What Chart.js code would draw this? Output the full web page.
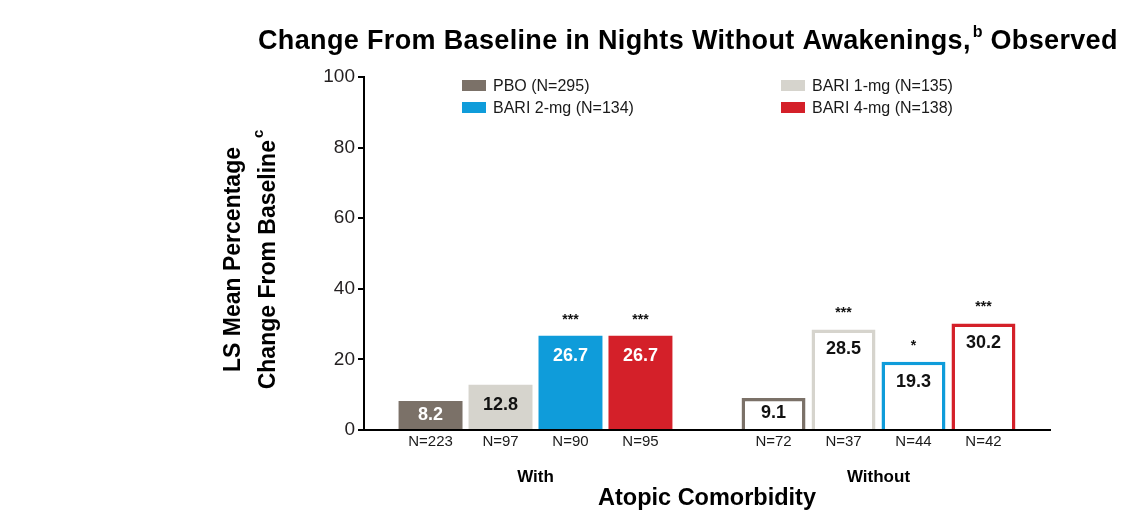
<!DOCTYPE html>
<html><head><meta charset="utf-8">
<script src="https://cdn.jsdelivr.net/npm/chart.js@4.4.0/dist/chart.umd.min.js"></script>
<style>html,body{margin:0;padding:0;background:#fff;overflow:hidden}#wrap{width:1121px;height:516px;position:relative}</style>
</head><body><div id="wrap"><canvas id="c" width="1121" height="516"></canvas></div>
<script>
// ---- data ----
const categories = ['With', 'Without'];
const seriesNames = ['PBO (N=295)', 'BARI 1-mg (N=135)', 'BARI 2-mg (N=134)', 'BARI 4-mg (N=138)'];
const pboValues = [8.2, 9.1];
const bari1Values = [12.8, 28.5];
const bari2Values = [26.7, 19.3];
const bari4Values = [26.7, 30.2];
const pboN = ['N=223', 'N=72'];
const bari1N = ['N=97', 'N=37'];
const bari2N = ['N=90', 'N=44'];
const bari4N = ['N=95', 'N=42'];
const pboSig = ['', ''];
const bari1Sig = ['', '***'];
const bari2Sig = ['***', '*'];
const bari4Sig = ['***', '***'];
const yTicks = [0, 20, 40, 60, 80, 100];
const chartTitle = 'Change From Baseline in Nights Without Awakenings,';
const chartTitleSup = 'b';
const chartTitleEnd = ' Observed';
const yTitle1 = 'LS Mean Percentage';
const yTitle2 = 'Change From Baseline';
const yTitle2Sup = 'c';
const xTitle = 'Atopic Comorbidity';

// ---- styles ----
const FONT = '"Liberation Sans", Arial, Helvetica, sans-serif';
const C_PBO = '#7b7168', C_B1 = '#d6d4cd', C_B2 = '#0f9cda', C_B4 = '#d42029';

function mk(label, data, color, nLabels, sig, withLabelColor) {
  return {
    label, data, nLabels, sig,
    labelColors: [withLabelColor, '#111'],
    backgroundColor: [color, '#ffffff'],
    borderColor: [color, color],
    borderWidth: [0, 3.5],
    borderSkipped: 'start',
    categoryPercentage: 0.816,
    barPercentage: 0.914
  };
}

const datasets = [
  mk(seriesNames[0], pboValues, C_PBO, pboN, pboSig, '#ffffff'),
  mk(seriesNames[1], bari1Values, C_B1, bari1N, bari1Sig, '#111111'),
  mk(seriesNames[2], bari2Values, C_B2, bari2N, bari2Sig, '#ffffff'),
  mk(seriesNames[3], bari4Values, C_B4, bari4N, bari4Sig, '#ffffff')
];

const labelPlugin = {
  id: 'labels',
  afterDatasetsDraw(chart) {
    const ctx = chart.ctx;
    ctx.save();
    ctx.textAlign = 'center';
    ctx.textBaseline = 'middle';
    chart.data.datasets.forEach((ds, di) => {
      const meta = chart.getDatasetMeta(di);
      meta.data.forEach((bar, i) => {
        const p = bar.getProps(['x', 'y', 'base'], true);
        const ly = Math.min(p.y + 20, (p.y + p.base) / 2);
        ctx.font = 'bold 18px ' + FONT;
        ctx.fillStyle = ds.labelColors[i];
        ctx.fillText(ds.data[i].toFixed(1), p.x, ly);
        if (ds.sig[i]) {
          ctx.font = 'bold 14px ' + FONT;
          ctx.fillStyle = '#111';
          ctx.fillText(ds.sig[i], p.x, p.y - 16);
        }
        ctx.font = '15px ' + FONT;
        ctx.fillStyle = '#1a1a1a';
        ctx.fillText(ds.nLabels[i], p.x, chart.chartArea.bottom + 12);
      });
    });
    ctx.restore();
  },
  afterDraw(chart) {
    const ctx = chart.ctx;
    ctx.save();
    // main title, fitted to span 258..1118
    ctx.fillStyle = '#000';
    ctx.textBaseline = 'alphabetic';
    ctx.textAlign = 'left';
    const big = 'bold 27px ' + FONT, sup = 'bold 16px ' + FONT;
    ctx.font = big;
    const wA = ctx.measureText(chartTitle).width, wC = ctx.measureText(chartTitleEnd).width;
    ctx.font = sup;
    const wB = ctx.measureText(chartTitleSup).width;
    const nChars = chartTitle.length + chartTitleEnd.length;
    const spacing = Math.max(0, Math.min(0.6, (860 - (wA + wB + wC + 2)) / nChars));
    ctx.letterSpacing = spacing.toFixed(2) + 'px';
    let x = 258;
    ctx.font = big;
    ctx.fillText(chartTitle, x, 49);
    x += ctx.measureText(chartTitle).width + 2;
    ctx.font = sup;
    ctx.letterSpacing = '0px';
    ctx.fillText(chartTitleSup, x, 37);
    x += wB;
    ctx.font = big;
    ctx.letterSpacing = spacing.toFixed(2) + 'px';
    ctx.fillText(chartTitleEnd, x, 49);
    ctx.letterSpacing = '0px';

    // y title (rotated)
    const cy = (chart.chartArea.top + chart.chartArea.bottom) / 2 + 6;
    ctx.save();
    ctx.translate(234, cy);
    ctx.rotate(-Math.PI / 2);
    ctx.textAlign = 'center';
    ctx.textBaseline = 'middle';
    ctx.font = 'bold 23px ' + FONT;
    ctx.fillText(yTitle1, 0, 0);
    ctx.restore();
    ctx.save();
    ctx.translate(269, cy);
    ctx.rotate(-Math.PI / 2);
    ctx.textBaseline = 'middle';
    ctx.font = 'bold 23px ' + FONT;
    const w1 = ctx.measureText(yTitle2).width;
    ctx.font = 'bold 15px ' + FONT;
    const w2 = ctx.measureText(yTitle2Sup).width;
    const start = -(w1 + w2 + 2) / 2;
    ctx.textAlign = 'left';
    ctx.font = 'bold 23px ' + FONT;
    ctx.fillText(yTitle2, start, 0);
    ctx.font = 'bold 15px ' + FONT;
    ctx.fillText(yTitle2Sup, start + w1 + 2, -10);
    ctx.restore();

    // legend (2 x 2)
    const order = [[0, 462, 85.5], [2, 462, 107.5], [1, 781, 85.5], [3, 781, 107.5]];
    ctx.font = '16px ' + FONT;
    ctx.textAlign = 'left';
    ctx.textBaseline = 'middle';
    order.forEach(([di, lx, ly]) => {
      const ds = chart.data.datasets[di];
      ctx.fillStyle = ds.backgroundColor[0];
      ctx.fillRect(lx, ly - 5.5, 24, 11);
      ctx.fillStyle = '#1a1a1a';
      ctx.fillText(ds.label, lx + 31, ly + 1);
    });
    ctx.restore();
  }
};

new Chart(document.getElementById('c'), {
  type: 'bar',
  data: { labels: categories, datasets },
  options: {
    responsive: false,
    animation: false,
    devicePixelRatio: 1,
    layout: { padding: { left: 0, right: 71, top: 77, bottom: 0 } },
    plugins: { legend: { display: false }, tooltip: { enabled: false }, title: { display: false } },
    scales: {
      x: {
        type: 'category',
        afterFit(scale) { scale.height = 86; },
        grid: { display: false, drawTicks: false },
        border: { display: true, color: '#000', width: 2 },
        ticks: { color: '#000', font: { family: FONT, size: 17, weight: 'bold' }, padding: 37 },
        title: { display: true, text: xTitle, color: '#000', font: { family: FONT, size: 23.5, weight: 'bold' }, padding: { top: 0, bottom: 3 } }
      },
      y: {
        min: 0, max: 100,
        afterFit(scale) { scale.width = 364; },
        afterBuildTicks(scale) { scale.ticks = yTicks.map(v => ({ value: v })); },
        grid: { drawOnChartArea: false, drawTicks: true, tickLength: 6, color: '#000', lineWidth: 2 },
        border: { display: true, color: '#000', width: 2 },
        ticks: { color: '#231f20', font: { family: FONT, size: 19 }, padding: 3 }
      }
    }
  },
  plugins: [labelPlugin]
});
</script>
</body></html>
